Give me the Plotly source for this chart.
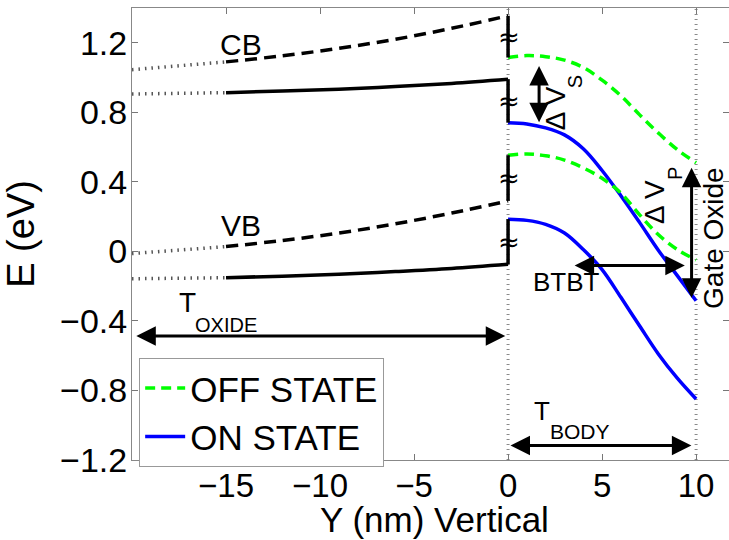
import plotly.graph_objects as go

# ---- band-edge data (energies in eV, positions in nm) ----
# oxide region, dotted lead-in from the left edge
x_lead = [-20, -15]
cb_off_lead = [1.045, 1.09]
cb_on_lead = [0.905, 0.913]
vb_off_lead = [-0.013, 0.027]
vb_on_lead = [-0.158, -0.152]

# oxide region bands
x_ox = [-15, -12, -9, -6, -3, 0]
cb_ox_off = [1.09, 1.125, 1.168, 1.22, 1.283, 1.355]
cb_ox_on = [0.913, 0.922, 0.933, 0.948, 0.966, 0.99]
vb_ox_off = [0.027, 0.062, 0.105, 0.158, 0.22, 0.29]
vb_ox_on = [-0.152, -0.143, -0.132, -0.117, -0.099, -0.075]

# silicon body bands
x_body = [0, 1, 2, 3, 4, 5, 6, 7, 8, 9, 10]
cb_off = [1.115, 1.126, 1.12, 1.10, 1.058, 0.985, 0.895, 0.785, 0.68, 0.585, 0.51]
vb_off = [0.553, 0.56, 0.55, 0.525, 0.48, 0.42, 0.335, 0.21, 0.095, 0.01, -0.05]
cb_on = [0.74, 0.733, 0.71, 0.67, 0.59, 0.465, 0.32, 0.165, 0.005, -0.14, -0.285]
vb_on = [0.185, 0.178, 0.155, 0.105, 0.01, -0.105, -0.265, -0.43, -0.592, -0.73, -0.85]

# axis ticks
x_ticks = [-15, -10, -5, 0, 5, 10]
y_ticks = [-1.2, -0.8, -0.4, 0, 0.4, 0.8, 1.2]

FONT = "Liberation Sans, Arial, Helvetica, sans-serif"
GREEN = "#00ff00"
BLUE = "#0000ff"

fig = go.Figure()

# legend entries first
fig.add_trace(go.Scatter(x=x_body, y=cb_off, mode="lines", name="OFF STATE",
                         line=dict(color=GREEN, width=3.5, dash="10px,6px", shape="spline"),
                         legendgroup="off"))
fig.add_trace(go.Scatter(x=x_body, y=cb_on, mode="lines", name="ON STATE",
                         line=dict(color=BLUE, width=3.5, shape="spline"),
                         legendgroup="on"))
fig.add_trace(go.Scatter(x=x_body, y=vb_off, mode="lines", showlegend=False,
                         line=dict(color=GREEN, width=3.5, dash="10px,6px", shape="spline")))
fig.add_trace(go.Scatter(x=x_body, y=vb_on, mode="lines", showlegend=False,
                         line=dict(color=BLUE, width=3.5, shape="spline")))

# dotted lead-in lines
for ys in (cb_off_lead, cb_on_lead, vb_off_lead, vb_on_lead):
    fig.add_trace(go.Scatter(x=x_lead, y=ys, mode="lines", showlegend=False,
                             line=dict(color="#555555", width=3.5, dash="1.5px,5px")))

# oxide bands: dashed = off, solid = on
for ys, dash in ((cb_ox_off, "12px,7px"), (vb_ox_off, "12px,7px"),
                 (cb_ox_on, "solid"), (vb_ox_on, "solid")):
    fig.add_trace(go.Scatter(x=x_ox, y=ys, mode="lines", showlegend=False,
                             line=dict(color="black", width=3.5, dash=dash, shape="spline")))

# band offsets at the oxide/body interface
steps = [(cb_ox_off[-1], cb_off[0]), (cb_ox_on[-1], cb_on[0]),
         (vb_off[0], vb_ox_off[-1]), (vb_on[0], vb_ox_on[-1])]
for top, bot in steps:
    fig.add_trace(go.Scatter(x=[0, 0], y=[top, bot], mode="lines", showlegend=False,
                             line=dict(color="black", width=3.5)))

# interface / gate boundaries
for xv in (0, 10):
    fig.add_shape(type="line", xref="x", yref="paper", x0=xv, x1=xv, y0=0, y1=1,
                  line=dict(color="#8a8a8a", width=3, dash="1px,4px"), layer="below")

annotations = []

# axis-break marks on the interface steps
for top, bot in steps:
    annotations.append(dict(x=0, y=(top + bot) / 2, xref="x", yref="y", text="≈",
                            showarrow=False, xshift=1,
                            font=dict(size=26, color="black", family="DejaVu Sans")))


def double_arrow(x0, y0, x1, y1):
    annotations.append(dict(x=x1, y=y1, ax=x0, ay=y0, xref="x", yref="y",
                            axref="x", ayref="y", text="", showarrow=True,
                            arrowside="end+start", arrowhead=2, startarrowhead=2,
                            arrowsize=1.3, startarrowsize=1.3, arrowwidth=3,
                            arrowcolor="black", standoff=0, startstandoff=0))


def label(x, y, text, size, angle=0):
    annotations.append(dict(x=x, y=y, xref="x", yref="y", text=text, showarrow=False,
                            textangle=angle, font=dict(size=size, color="black", family=FONT)))


double_arrow(-19.85, -0.488, -0.15, -0.488)      # T_OXIDE
double_arrow(3.46, -0.082, 9.4, -0.082)          # BTBT
double_arrow(1.65, 1.075, 1.65, 0.742)           # delta V_S
double_arrow(9.76, 0.49, 9.76, -0.268)           # delta V_P
double_arrow(0.05, -1.117, 9.75, -1.117)         # T_BODY

label(-14.2, 1.19, "CB", 30)
label(-14.2, 0.148, "VB", 30)
label(-17.06, -0.295, "T", 28)
label(-14.99, -0.422, "OXIDE", 20)
label(3.11, -0.177, "BTBT", 26)
label(2.57, 0.825, "Δ V", 28, -90)
label(3.57, 0.974, "S", 20, -90)
label(7.75, 0.283, "Δ V", 28, -90)
label(8.84, 0.447, "P", 20, -90)
label(10.92, 0.079, "Gate Oxide", 28, -90)
label(1.82, -0.917, "T", 26)
label(3.81, -1.036, "BODY", 21)

# horizontal axis title, sitting on the bottom edge of the figure
annotations.append(dict(x=0.506, y=-80 / 452, xref="paper", yref="paper",
                        xanchor="center", yanchor="bottom", borderpad=0,
                        text="Y (nm) Vertical", showarrow=False,
                        font=dict(size=35, color="black", family=FONT)))

axis_common = dict(showline=True, linecolor="#888888", linewidth=1, mirror="ticks",
                   ticks="inside", ticklen=6, tickcolor="#777777", showgrid=False,
                   zeroline=False, automargin=False)

fig.update_layout(
    width=729, height=540,
    margin=dict(l=132, r=0, t=8, b=80),
    plot_bgcolor="white", paper_bgcolor="white",
    font=dict(family=FONT, color="black"),
    xaxis=dict(range=[-20, 11.75], tickvals=x_ticks, ticklabelstandoff=-4,
               tickfont=dict(size=33, color="black", family=FONT), **axis_common),
    yaxis=dict(range=[-1.201, 1.4], tickvals=y_ticks, ticklabelstandoff=-3,
               tickfont=dict(size=34, color="black", family=FONT),
               title=dict(text="E (eV)", font=dict(size=38, family=FONT), standoff=14),
               **axis_common),
    legend=dict(x=0.012, y=0.226, xanchor="left", yanchor="top", bgcolor="white",
                bordercolor="#999999", borderwidth=1, font=dict(size=35, family=FONT),
                tracegroupgap=0, itemwidth=40),
    annotations=annotations,
)

fig.write_html("out.html")
